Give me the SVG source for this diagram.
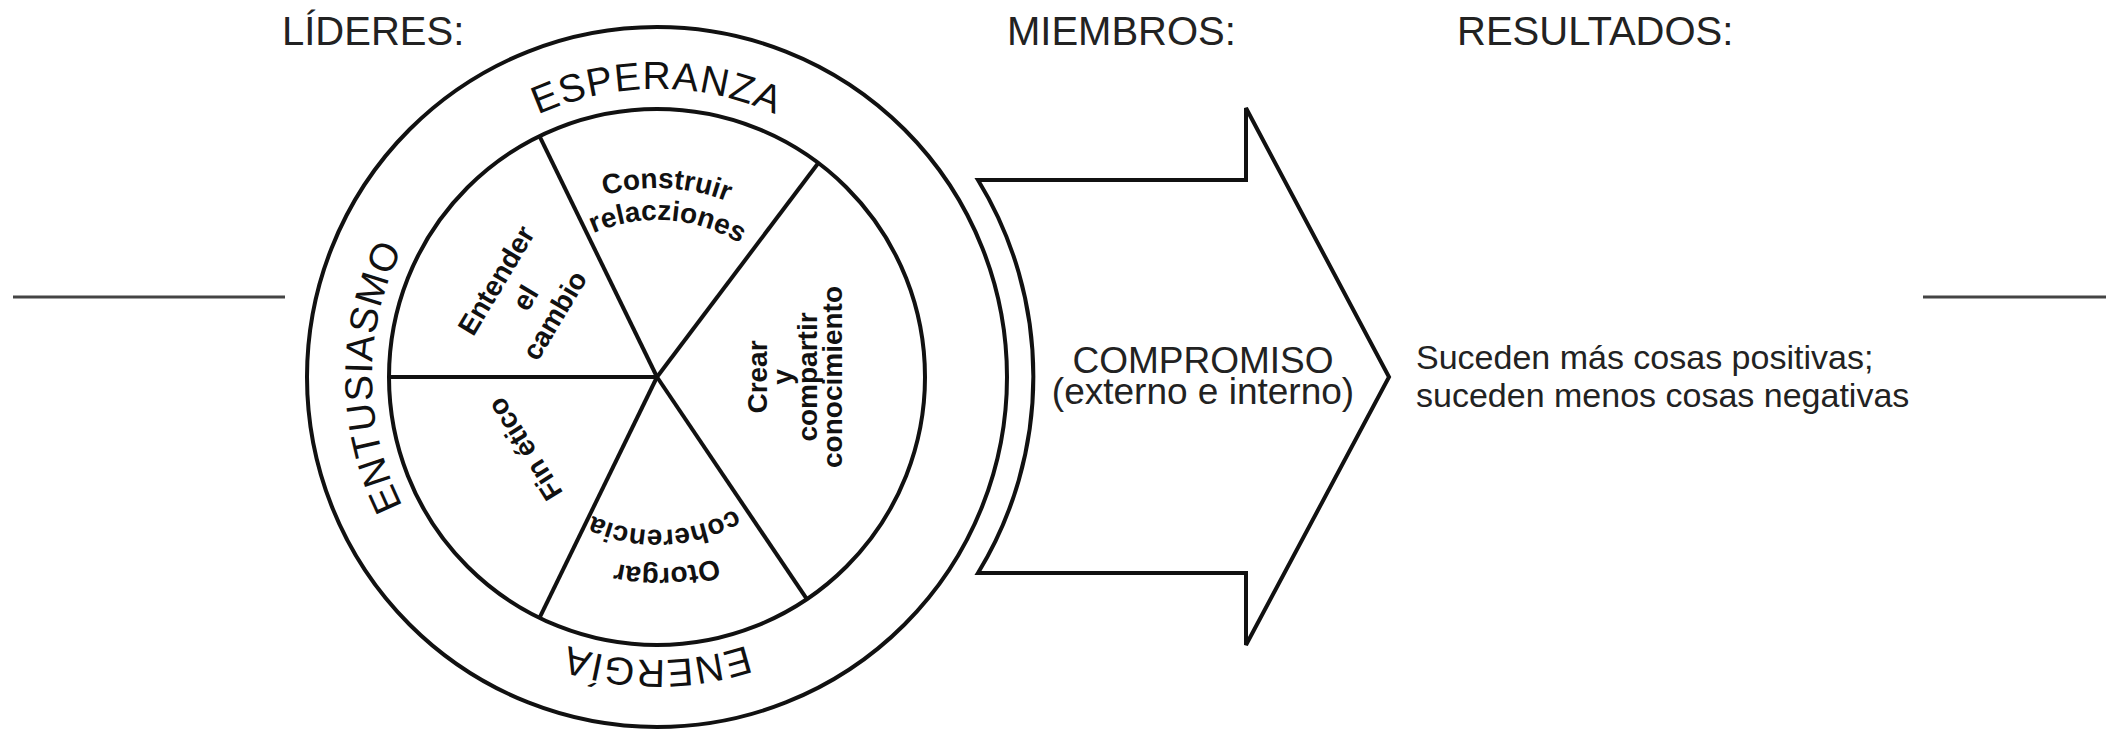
<svg xmlns="http://www.w3.org/2000/svg" xmlns:xlink="http://www.w3.org/1999/xlink" width="2114" height="730" viewBox="0 0 2114 730">
<style>
.head{font-family:"Liberation Sans",Arial,sans-serif;font-size:40px;fill:#222}
.ring{font-family:"Liberation Sans",Arial,sans-serif;font-size:39px;fill:#111;letter-spacing:1px}
.sec{font-family:"Liberation Sans",Arial,sans-serif;font-size:28px;font-weight:bold;fill:#111}
.mid{font-family:"Liberation Sans",Arial,sans-serif;font-size:37px;fill:#222}
.res{font-family:"Liberation Sans",Arial,sans-serif;font-size:34px;fill:#222}
.ln{fill:none;stroke:#111;stroke-width:4}
.rule{stroke:#444;stroke-width:3}
</style>
<defs>
<path id="rT" d="M 369,377 A 288 288 0 0 1 945,377 A 288 288 0 0 1 369,377"/>
<path id="rA" d="M 374,377 A 283 283 0 0 1 940,377 A 283 283 0 0 1 374,377"/>
<path id="rB" d="M 657,662 A 285 285 0 0 1 657,92 A 285 285 0 0 1 657,662"/>
<path id="c189" d="M 468,377 A 189 189 0 0 1 846,377 A 189 189 0 0 1 468,377"/>
<path id="c157" d="M 500,377 A 157 157 0 0 1 814,377 A 157 157 0 0 1 500,377"/>
<path id="c191" d="M 466,377 A 191 191 0 0 1 848,377 A 191 191 0 0 1 466,377"/>
<path id="c153" d="M 504,377 A 153 153 0 0 1 810,377 A 153 153 0 0 1 504,377"/>
</defs>

<g id="rules">
<line class="rule" x1="13" y1="297" x2="285" y2="297"/>
<line class="rule" x1="1923" y1="297" x2="2106" y2="297"/>
</g>

<g id="headings">
<text class="head" x="282" y="45">LÍDERES:</text>
<text class="head" x="1007" y="45">MIEMBROS:</text>
<text class="head" x="1457" y="45">RESULTADOS:</text>
</g>

<g id="wheel">
<circle class="ln" cx="657" cy="377" r="350"/>
<circle class="ln" cx="657" cy="377" r="268"/>
<text class="ring" text-anchor="middle"><textPath xlink:href="#rT" startOffset="25%">ESPERANZA</textPath></text>
<text class="ring" text-anchor="middle" letter-spacing="2"><textPath xlink:href="#rA" startOffset="75%">ENERGÍA</textPath></text>
<text class="ring" text-anchor="middle"><textPath xlink:href="#rB" startOffset="25%">ENTUSIASMO</textPath></text>
</g>

<g id="spokes">
<line class="ln" x1="657" y1="377" x2="389" y2="377"/>
<line class="ln" x1="657" y1="377" x2="539.5" y2="136.1"/>
<line class="ln" x1="657" y1="377" x2="818.3" y2="163"/>
<line class="ln" x1="657" y1="377" x2="806.9" y2="599.2"/>
<line class="ln" x1="657" y1="377" x2="539.5" y2="617.9"/>
</g>

<g id="sector-entender">
<text class="sec" text-anchor="middle" transform="translate(504.4,285.3) rotate(-59)">Entender</text>
<text class="sec" text-anchor="middle" transform="translate(533.6,302.8) rotate(-59)">el</text>
<text class="sec" text-anchor="middle" transform="translate(562.7,320.3) rotate(-59)">cambio</text>
</g>

<g id="sector-construir">
<text class="sec" text-anchor="middle"><textPath xlink:href="#c189" startOffset="25.8%">Construir</textPath></text>
<text class="sec" text-anchor="middle"><textPath xlink:href="#c157" startOffset="26.1%">relacziones</textPath></text>
</g>

<g id="sector-crear">
<text class="sec" text-anchor="middle" transform="translate(767,377) rotate(-90)">Crear</text>
<text class="sec" text-anchor="middle" transform="translate(792,377) rotate(-90)">y</text>
<text class="sec" text-anchor="middle" transform="translate(817,377) rotate(-90)">compartir</text>
<text class="sec" text-anchor="middle" transform="translate(842,377) rotate(-90)">conocimiento</text>
</g>

<g id="sector-otorgar">
<text class="sec" text-anchor="middle"><textPath xlink:href="#c191" startOffset="74.2%">Otorgar</textPath></text>
<text class="sec" text-anchor="middle"><textPath xlink:href="#c153" startOffset="74.2%">coherencia</textPath></text>
</g>

<g id="sector-fin">
<text class="sec" text-anchor="middle" transform="translate(533,444) rotate(-122)">Fin ético</text>
</g>

<g id="arrow">
<path class="ln" stroke-linejoin="miter" d="M 978,180 L 1246,180 L 1246,108 L 1389,377 L 1246,645 L 1246,573 L 978,573 A 376.5 376.5 0 0 0 978,180 Z"/>
<text class="mid" text-anchor="middle" x="1203" y="373">COMPROMISO</text>
<text class="mid" text-anchor="middle" x="1203" y="404">(externo e interno)</text>
</g>

<g id="result">
<text class="res" x="1416" y="369">Suceden más cosas positivas;</text>
<text class="res" x="1416" y="407">suceden menos cosas negativas</text>
</g>
</svg>
